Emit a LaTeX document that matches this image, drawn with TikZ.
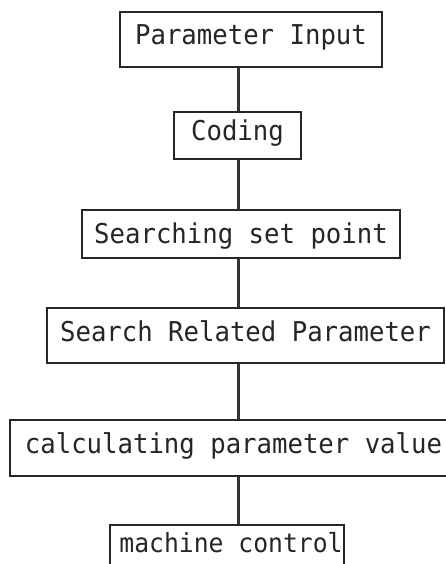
\documentclass[tikz,border=0pt]{standalone}
\usepackage{fontspec}
\newfontfamily\flowmono[FakeStretch=0.94]{DejaVu Sans Mono}
\tikzset{
  stepbox/.style={draw=black!85, line width=2.2pt, inner sep=0pt, rectangle,
    text height=20pt, text depth=9pt,
    font=\flowmono\fontsize{27.3pt}{32pt}\selectfont, text=black!85},
  link/.style={draw=black!80, line width=2.2pt}
}
\begin{document}
\begin{tikzpicture}[x=1pt,y=-1pt]
\useasboundingbox (0,0) rectangle (446,564);
\clip (0,0) rectangle (446,564);
\fill[white] (0,0) rectangle (446,564);
\coordinate (ax) at (238.5,0);
\node[stepbox, minimum width=262pt, minimum height=55pt] (b1) at (251,39.5) {Parameter Input};
\node[stepbox, minimum width=127pt, minimum height=47pt] (b2) at (237.5,135.5) {Coding};
\node[stepbox, minimum width=318pt, minimum height=48pt, text depth=2pt] (b3) at (241,234) {Searching set point};
\node[stepbox, minimum width=397pt, minimum height=55pt] (b4) at (245.5,335.5) {Search Related Parameter};
\node[stepbox, minimum width=447pt, minimum height=56pt] (b5) at (233.5,448) {calculating parameter value};
\node[stepbox, minimum width=234pt, minimum height=43pt, font=\flowmono\fontsize{26.3pt}{31pt}\selectfont] (b6) at (227,546.5) {\hspace*{4pt}machine control\hspace*{-4pt}};
\draw[link] (b1.south -| ax) -- (b2.north -| ax);
\draw[link] (b2.south -| ax) -- (b3.north -| ax);
\draw[link] (b3.south -| ax) -- (b4.north -| ax);
\draw[link] (b4.south -| ax) -- (b5.north -| ax);
\draw[link] (b5.south -| ax) -- (b6.north -| ax);
\end{tikzpicture}
\end{document}
